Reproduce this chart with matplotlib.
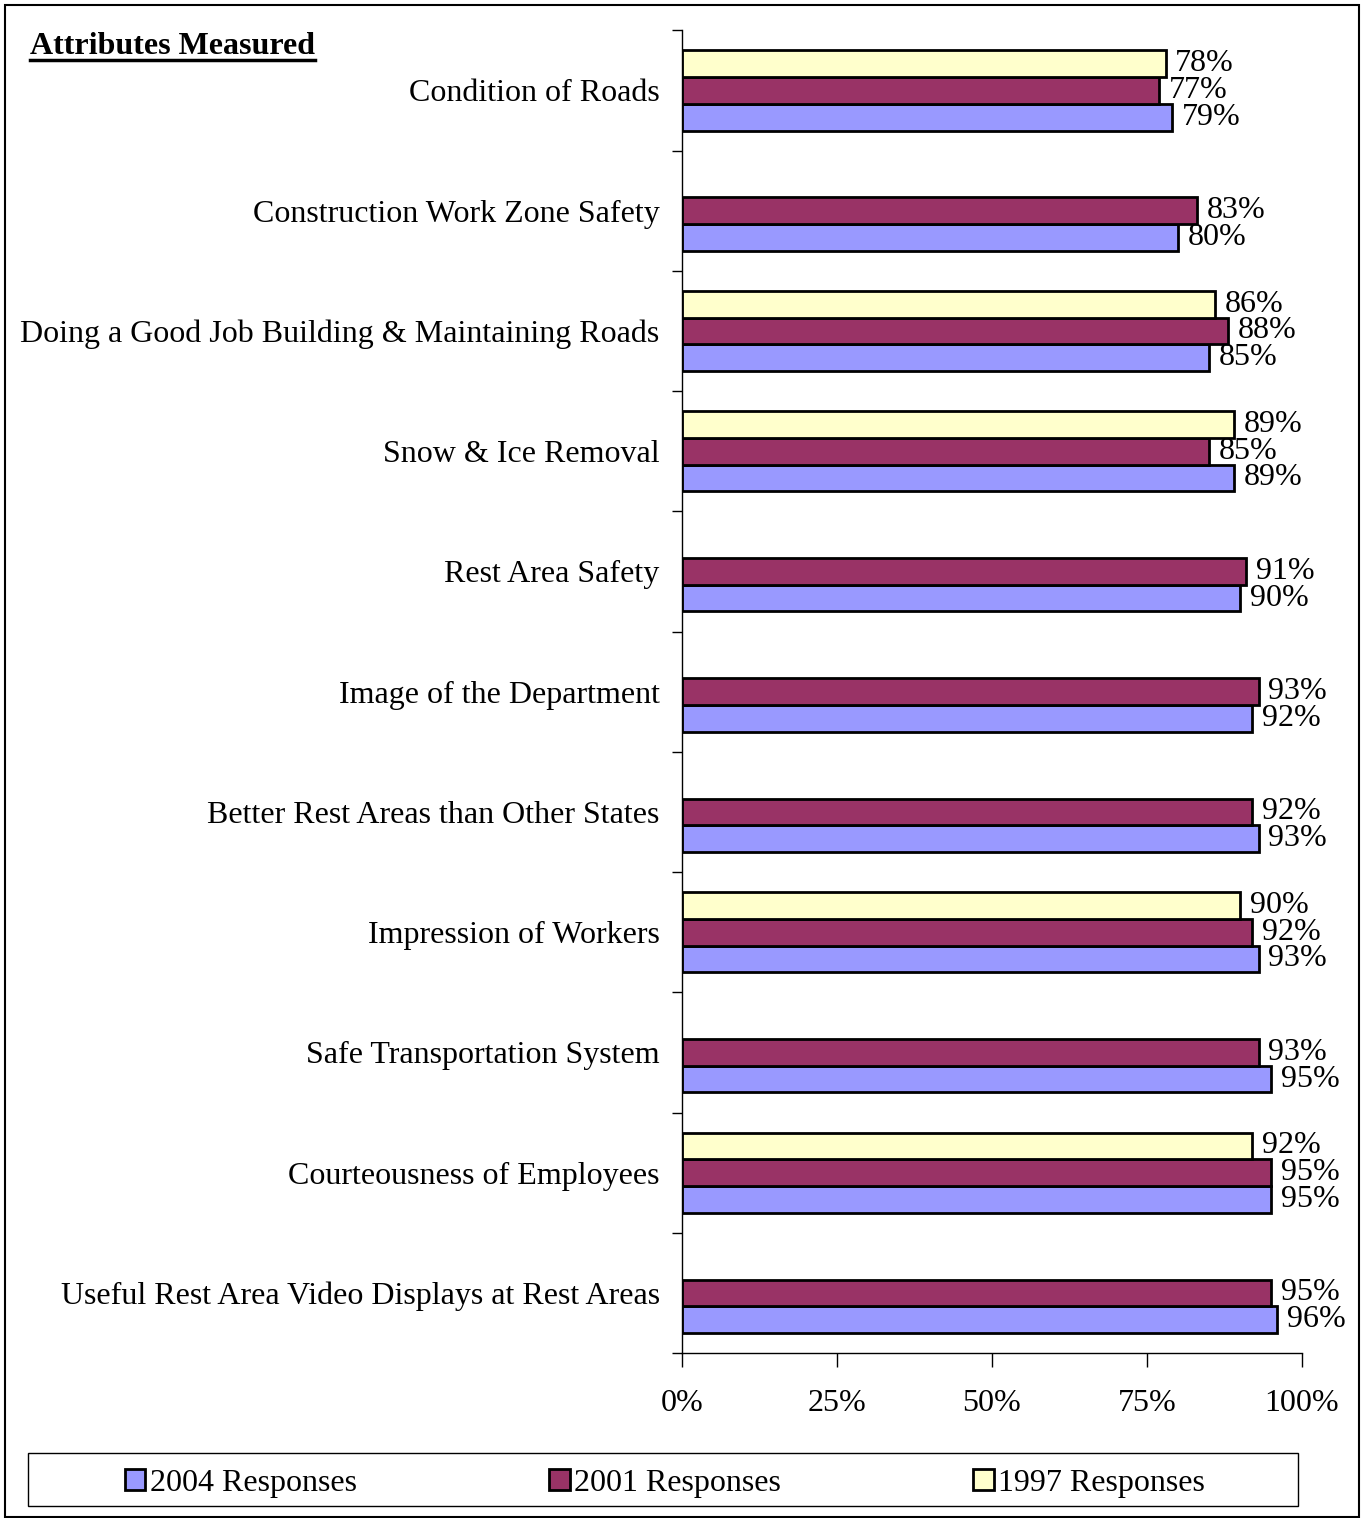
import matplotlib.pyplot as plt
import numpy as np
from matplotlib.lines import Line2D
from matplotlib.patches import Rectangle

plt.rcParams['font.family'] = ['Liberation Serif', 'DejaVu Serif']

# data
categories = [
    "Condition of Roads",
    "Construction Work Zone Safety",
    "Doing a Good Job Building & Maintaining Roads",
    "Snow & Ice Removal",
    "Rest Area Safety",
    "Image of the Department",
    "Better Rest Areas than Other States",
    "Impression of Workers",
    "Safe Transportation System",
    "Courteousness of Employees",
    "Useful Rest Area Video Displays at Rest Areas",
]
resp_2004 = [79, 80, 85, 89, 90, 92, 93, 93, 95, 95, 96]
resp_2001 = [77, 83, 88, 85, 91, 93, 92, 92, 93, 95, 95]
resp_1997 = [78, None, 86, 89, None, None, None, 90, None, 92, None]

series = [
    ("2004 Responses", resp_2004, "#9999FF", 0.222),
    ("2001 Responses", resp_2001, "#993366", 0.0),
    ("1997 Responses", resp_1997, "#FFFFCC", -0.222),
]

FS = 23

fig = plt.figure(figsize=(13.62, 15.18), dpi=100)
ax = fig.add_axes([0.5007, 0.1087, 0.4552, 0.8713])

ypos = np.arange(len(categories))
handles = []
for name, vals, col, off in series:
    idx = [i for i, v in enumerate(vals) if v is not None]
    w = [vals[i] / 100 for i in idx]
    bars = ax.barh(ypos[idx] + off, w, height=0.222, color=col,
                   edgecolor="black", linewidth=2, label=name)
    ax.bar_label(bars, labels=["%d%%" % vals[i] for i in idx], padding=7,
                 fontsize=FS)
    handles.append(bars)

ax.set_ylim(len(categories) - 0.5, -0.5)
ax.set_xlim(0, 1)
ax.set_xticks([0, 0.25, 0.5, 0.75, 1.0])
ax.set_xticklabels(["0%", "25%", "50%", "75%", "100%"], fontsize=FS)
ax.tick_params(axis="x", length=10, width=1, pad=16)

ax.set_yticks(np.arange(len(categories) + 1) - 0.5)
ax.set_yticklabels([])
ax.tick_params(axis="y", which="major", length=7, width=1)
ax.set_yticks(ypos, minor=True)
ax.set_yticklabels(categories, minor=True, fontsize=FS)
ax.tick_params(axis="y", which="minor", length=0, pad=16)

for s in ["top", "right"]:
    ax.spines[s].set_visible(False)
ax.spines["left"].set_linewidth(1)
ax.spines["bottom"].set_linewidth(1)

# title with underline
t = fig.text(30 / 1362, 1 - 46 / 1518, "Attributes Measured", fontsize=FS,
             fontweight="bold", ha="left", va="center")
fig.canvas.draw()
bb = t.get_window_extent(fig.canvas.get_renderer()).transformed(fig.transFigure.inverted())
fig.add_artist(Line2D([bb.x0, bb.x1], [1 - 60 / 1518] * 2, color="black", lw=2.5,
                      transform=fig.transFigure))

# legend: entries centred, frame drawn across the full width
leg = fig.legend(handles=handles, loc="center", ncol=3,
                 bbox_to_anchor=(665 / 1362, 1 - 1483 / 1518),
                 fontsize=FS, frameon=False, columnspacing=6.0,
                 handlelength=0.65, handleheight=0.65, handletextpad=0.15,
                 borderaxespad=0)
fig.add_artist(Rectangle((28 / 1362, 1 - 1506 / 1518), 1270 / 1362, 53 / 1518,
                         fill=False, edgecolor="black", lw=1,
                         transform=fig.transFigure))

# outer border
fig.add_artist(Rectangle((5 / 1362, 1 / 1518), 1354 / 1362, 1512 / 1518,
                         fill=False, edgecolor="black", lw=1.5,
                         transform=fig.transFigure))

fig.savefig("out.png", dpi=100)
